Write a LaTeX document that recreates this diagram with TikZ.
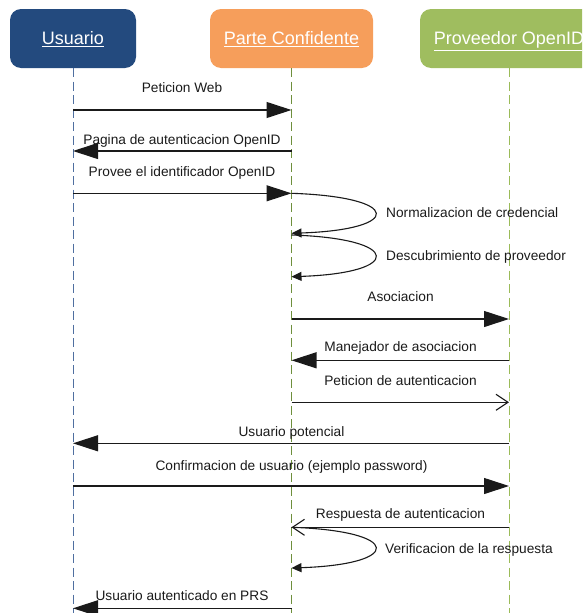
\documentclass[tikz,border=0pt]{standalone}
\usepackage{fontspec}
\setmainfont{Liberation Sans}
\usetikzlibrary{arrows.meta}

\definecolor{usrfill}{HTML}{234A7E}
\definecolor{rpfill}{HTML}{F69E5B}
\definecolor{opfill}{HTML}{9FBD5F}
\definecolor{usrline}{HTML}{4F6FA0}
\definecolor{rpline}{HTML}{6E8F3C}
\definecolor{opline}{HTML}{9BBB59}
\definecolor{ink}{HTML}{1A1A1A}

\begin{document}
\begin{tikzpicture}[x=1pt,y=-1pt,
  actor/.style={fill=#1, draw=none, rounded corners=11pt, text=white,
    font=\fontsize{18}{21}\selectfont, minimum height=59pt,
    text height=12.9pt, text depth=0pt, inner sep=0pt},
  lifeline/.style={draw=#1, line width=0.8pt, dash pattern=on 9pt off 4.5pt},
  msglabel/.style={font=\fontsize{13.7}{16}\selectfont, text=ink, anchor=base, inner sep=0pt},
  looplabel/.style={msglabel, anchor=base west},
  msg/.style={draw=ink, line width=1.1pt, -{Triangle[length=25pt,width=16pt]}},
  reply/.style={draw=ink, line width=1.1pt, -{Straight Barb[length=12pt,width=16pt]}},
  selfmsg/.style={draw=ink, line width=1.1pt, -{Triangle[length=10pt,width=9pt]}}]

\useasboundingbox (0,0) rectangle (582,613);
\clip (0,0) rectangle (582,613);

% participants
\node[actor=usrfill, minimum width=126pt] (u) at (73,38.5) {\underline{Usuario}};
\node[actor=rpfill, minimum width=163pt] (p) at (291.5,38.5) {\underline{Parte Confidente}};
\node[actor=opfill, minimum width=178pt] (o) at (509,38.5) {\underline{Proveedor OpenID}};

% lifelines
\draw[lifeline=usrline] (u.south) -- (u.south |- 0,620);
\draw[lifeline=rpline] (p.south) -- (p.south |- 0,620);
\draw[lifeline=opline] (o.south) -- (o.south |- 0,620);

% anchor points on the lifelines
\foreach \n/\y in {1/110, 2/151, 3/193.3, 4/319, 5/360.3, 6/402.3, 7/443.3, 8/486, 9/527.3, 10/608.3,
                   l1/233.3, l2s/235, l2/276.7, l3/568} {
  \coordinate (u\n) at (u.south |- 0,\y);
  \coordinate (p\n) at (p.south |- 0,\y);
  \coordinate (o\n) at (o.south |- 0,\y);
}

% messages
\draw[msg] (u1) -- (p1);
\node[msglabel] (t1) at (182,92.7) {Peticion Web};

\draw[msg] (p2) -- (u2);
\node[msglabel] (t2) at (182,144) {Pagina de autenticacion OpenID};

\draw[msg] (u3) -- (p3);
\node[msglabel] (t3) at (182,176) {Provee el identificador OpenID};

\draw[selfmsg] (p3) .. controls (403,197) and (403,229.6) .. (pl1);
\node[looplabel] (t4) at (386,217.3) {Normalizacion de credencial};

\draw[selfmsg] (pl2s) .. controls (403,238.5) and (403,273) .. (pl2);
\node[looplabel] (t5) at (386,260) {Descubrimiento de proveedor};

\draw[msg] (p4) -- (o4);
\node[msglabel] (t6) at (400.5,301.7) {Asociacion};

\draw[msg] (o5) -- (p5);
\node[msglabel] (t7) at (400.5,351.7) {Manejador de asociacion};

\draw[reply] (p6) -- (o6);
\node[msglabel] (t8) at (400.5,385.7) {Peticion de autenticacion};

\draw[msg] (o7) -- (u7);
\node[msglabel] (t9) at (291.5,436) {Usuario potencial};

\draw[msg] (u8) -- (o8);
\node[msglabel] (t10) at (291.5,470) {Confirmacion de usuario (ejemplo password)};

\draw[reply] (o9) -- (p9);
\node[msglabel] (t11) at (400.5,518.3) {Respuesta de autenticacion};

\draw[selfmsg] (p9) .. controls (403,531) and (403,564.3) .. (pl3);
\node[looplabel] (t12) at (385,553) {Verificacion de la respuesta};

\draw[msg] (p10) -- (u10);
\node[msglabel] (t13) at (182,600.7) {Usuario autenticado en PRS};

\end{tikzpicture}
\end{document}
